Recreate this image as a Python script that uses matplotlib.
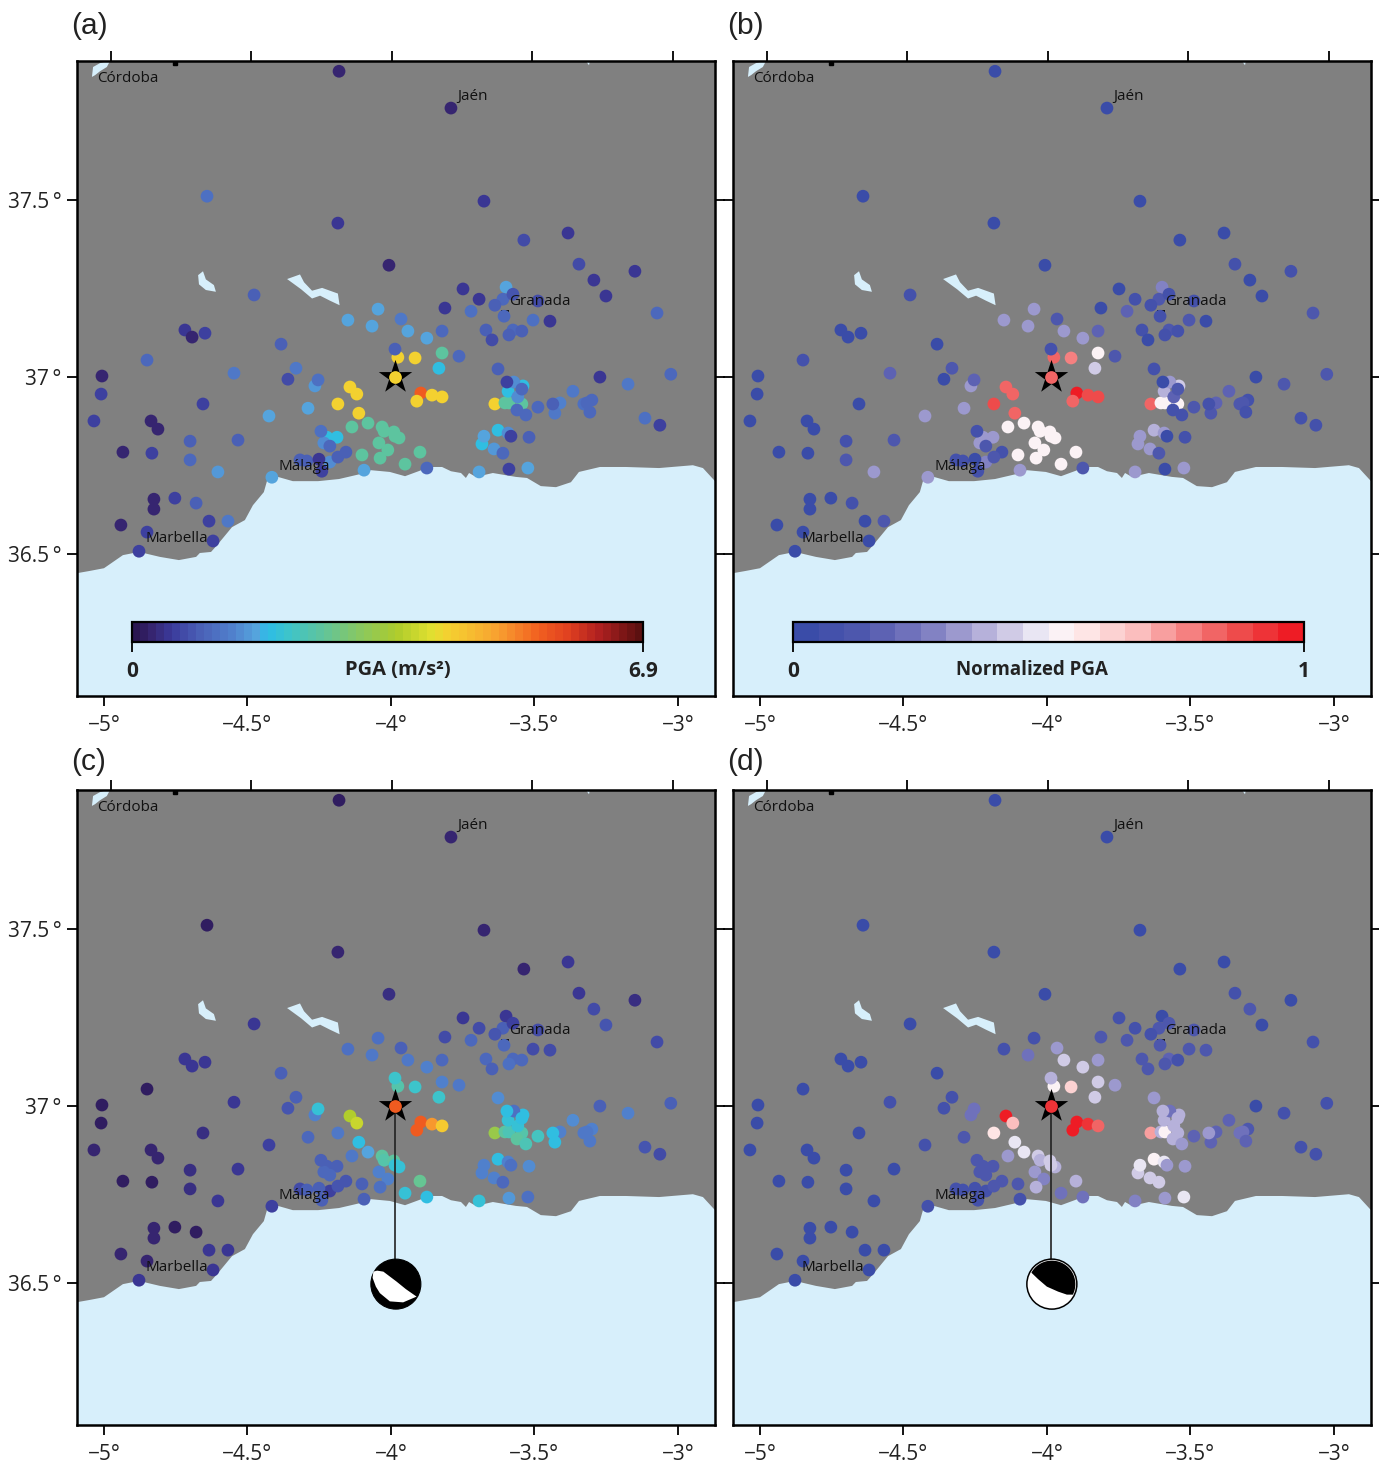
import numpy as np
import matplotlib
matplotlib.use("Agg")
import matplotlib.pyplot as plt
from matplotlib.colors import LinearSegmentedColormap, Normalize
from matplotlib.cm import ScalarMappable
from matplotlib.patches import Polygon, Ellipse

plt.rcParams['font.family'] = ['Open Sans', 'DejaVu Sans']

W, H = 1379, 1465
LAND = '#808080'
SEA = '#d7effb'

# station longitudes / latitudes (degrees)
station_lon = [
 -4.477,-4.150,-4.045,-4.066,-3.965,-3.941,-3.875,-3.822,-3.812,-3.749,
 -3.693,-3.721,-3.638,-3.610,-3.599,-3.575,-3.606,-3.488,-3.505,-3.446,
 -3.293,-3.251,-3.669,-3.648,-3.575,-3.589,-3.544,-3.763,-3.822,-3.833,
 -3.916,-3.976,-3.986,-3.986,-3.896,-3.857,-3.822,-3.910,-4.143,-4.119,
 -4.185,-4.112,-4.383,-4.331,-4.359,-4.547,-4.265,-4.254,-4.289,-4.425,
 -4.533,-4.244,-4.188,-4.223,-4.234,-4.213,-4.157,-4.185,-4.213,-4.317,
 -4.293,-4.251,-4.241,-4.415,-4.136,-4.080,-4.031,-4.024,-3.990,-3.972,
 -3.986,-4.042,-4.011,-4.101,-4.038,-3.899,-3.951,-4.094,-3.875,-3.693,
 -3.589,-3.523,-3.676,-3.683,-3.627,-3.641,-3.610,-3.592,-3.582,-3.519,
 -3.627,-3.596,-3.572,-3.540,-3.592,-3.544,-3.558,-3.638,-3.603,-3.589,
 -3.544,-3.561,-3.530,-3.488,-3.436,-3.411,-3.429,-3.366,-3.272,-3.174,
 -3.328,-3.300,-3.317,-3.307,-4.181,-3.791,-4.641,-4.185,-3.676,-3.537,
 -3.383,-4.007,-3.345,-3.150,-3.073,-4.718,-4.693,-4.648,-4.850,-5.007,
 -5.010,-5.035,-4.655,-4.836,-4.812,-4.700,-4.700,-4.603,-4.934,-4.833,
 -4.826,-4.826,-4.753,-4.679,-4.634,-4.568,-4.941,-4.850,-4.620,-4.878,
 -3.115,-3.063,-3.025]
station_lat = [
 37.232,37.161,37.192,37.144,37.164,37.130,37.110,37.130,37.195,37.249,
 37.220,37.186,37.203,37.220,37.254,37.234,37.172,37.215,37.161,37.158,
 37.274,37.229,37.133,37.105,37.133,37.119,37.130,37.059,37.068,37.025,
 37.054,37.056,37.079,37.000,36.955,36.949,36.944,36.932,36.972,36.952,
 36.924,36.898,37.093,37.025,36.994,37.011,36.975,36.992,36.912,36.890,
 36.822,36.847,36.830,36.830,36.814,36.805,36.788,36.774,36.760,36.766,
 36.763,36.768,36.734,36.717,36.859,36.870,36.859,36.847,36.845,36.828,
 36.833,36.814,36.794,36.780,36.771,36.788,36.754,36.737,36.743,36.732,
 36.740,36.743,36.833,36.811,36.850,36.797,36.785,36.842,36.833,36.830,
 37.023,36.986,36.986,36.975,36.960,36.966,36.944,36.924,36.927,36.927,
 36.924,36.907,36.893,36.915,36.924,36.927,36.898,36.960,37.000,36.980,
 36.924,36.935,36.927,36.901,37.864,37.760,37.511,37.435,37.497,37.387,
 37.407,37.316,37.319,37.299,37.181,37.133,37.113,37.124,37.048,37.003,
 36.952,36.876,36.924,36.876,36.853,36.819,36.766,36.732,36.788,36.785,
 36.655,36.627,36.658,36.644,36.593,36.593,36.582,36.562,36.537,36.508,
 36.884,36.864,37.008]

# panel (a): PGA in m/s2
pga_a = [
 .9,1.65,1.65,1.65,1.2,1.65,1.65,1.0,.5,.5,
 .5,1.1,.9,1.0,1.65,.8,1.0,.7,1.1,.5,
 .5,.5,.95,.7,1.0,.9,.9,1.0,2.5,1.9,
 4.3,4.3,.9,4.3,5.5,4.3,4.3,4.3,4.3,4.3,
 4.3,4.3,.9,1.2,.7,1.2,1.6,1.1,1.65,1.65,
 .9,1.1,1.9,1.9,1.5,1.0,.9,.9,1.5,.9,
 .9,.5,.6,1.65,2.5,2.5,2.5,2.5,2.5,2.5,
 2.5,2.5,2.5,2.5,2.5,2.5,2.5,1.65,1.0,1.65,
 .6,1.65,1.65,1.9,1.9,1.6,1.0,1.5,.6,.9,
 .9,.6,1.5,1.9,1.9,1.0,1.5,4.3,2.5,2.5,
 2.5,1.0,1.0,1.0,.95,1.4,1.2,1.2,.5,1.2,
 1.1,1.0,1.0,1.0,.25,.3,1.1,.5,.5,.7,
 .5,.3,.75,.5,1.0,.5,.3,.55,1.0,.25,
 .55,.55,.6,.3,.3,.9,1.0,1.6,.25,.55,
 .25,.25,.55,.9,.55,1.2,.3,.6,.55,.55,
 1.1,.6,1.0]
# panel (b): normalized PGA
norm_b = [
 .05,.3,.3,.3,.1,.3,.3,.15,.04,.03,
 .05,.15,.05,.12,.28,.05,.05,.05,.13,.03,
 .03,.03,.05,.03,.12,.08,.05,.14,.5,.4,
 .78,.8,.07,.8,1.0,.85,.85,.82,.8,.82,
 .85,.82,.04,.1,.04,.15,.3,.15,.3,.3,
 .1,.05,.33,.33,.3,.13,.05,.1,.28,.05,
 .05,.03,.05,.3,.5,.5,.5,.5,.5,.5,
 .5,.5,.5,.5,.5,.5,.5,.3,.1,.3,
 .03,.33,.33,.33,.38,.3,.13,.3,.04,.05,
 .07,.03,.3,.4,.35,.1,.15,.82,.5,.5,
 .5,.08,.07,.1,.07,.15,.12,.15,.03,.13,
 .13,.06,.12,.07,.03,.03,.04,.03,.03,.04,
 .03,.03,.05,.05,.12,.04,.04,.04,.06,.03,
 .03,.03,.04,.03,.03,.07,.1,.3,.03,.03,
 .03,.03,.03,.08,.03,.12,.03,.04,.03,.03,
 .08,.05,.1]
# panel (c): PGA in m/s2
pga_c = [
 .5,1.1,1.1,1.2,.9,1.2,1.4,1.0,.7,.5,
 .7,1.0,.8,.9,.5,.6,1.0,.7,.7,.7,
 .7,.8,1.0,.9,1.0,1.1,1.0,1.2,1.3,2.1,
 2.1,2.4,2.05,5.6,5.5,5.0,4.4,5.6,3.6,3.85,
 1.2,1.85,.9,.9,.8,.45,1.3,2.0,1.0,.6,
 .45,.9,.95,.9,1.0,1.0,.85,.85,.6,.7,
 .9,.9,.9,.6,1.2,1.7,2.5,2.4,2.5,2.0,
 2.0,1.3,1.3,.9,1.1,2.6,2.0,.9,1.85,2.0,
 1.6,1.1,1.4,1.4,1.85,1.3,1.0,1.3,1.1,1.5,
 1.5,1.9,1.1,1.9,2.0,1.9,2.0,3.3,2.5,2.3,
 2.4,2.5,2.3,2.2,1.9,1.4,1.9,1.5,.95,1.3,
 1.2,1.3,1.2,1.2,.2,.3,.2,.3,.3,.25,
 .45,.4,.45,.35,.75,.5,.45,.45,.2,.2,
 .2,.25,.4,.25,.25,.35,.35,.45,.2,.2,
 .25,.25,.2,.2,.45,.45,.25,.25,.45,.45,
 .8,.7,.9]
# panel (d): normalized PGA
norm_d = [
 .03,.05,.05,.2,.3,.4,.42,.33,.12,.08,
 .08,.12,.07,.12,.04,.1,.12,.1,.12,.13,
 .12,.04,.12,.1,.15,.13,.05,.33,.4,.42,
 .62,.52,.38,.9,.95,.9,.8,1.0,1.0,.68,
 .55,.47,.04,.05,.05,.05,.2,.22,.13,.05,
 .04,.1,.12,.1,.1,.12,.1,.1,.08,.05,
 .08,.05,.07,.05,.3,.47,.4,.38,.42,.35,
 .4,.3,.25,.1,.35,.35,.2,.05,.2,.28,
 .33,.45,.45,.42,.52,.4,.43,.48,.33,.33,
 .3,.36,.2,.37,.36,.38,.36,.72,.38,.5,
 .38,.36,.3,.18,.3,.17,.15,.17,.04,.07,
 .2,.1,.2,.17,.03,.03,.04,.04,.03,.04,
 .04,.04,.05,.04,.05,.04,.04,.04,.04,.03,
 .04,.04,.04,.04,.04,.04,.04,.04,.04,.04,
 .04,.04,.04,.04,.04,.04,.04,.04,.04,.04,
 .07,.05,.07]

EPICENTRE = 33     # index of the station under the star
epi_lon, epi_lat = -3.986, 37.0
ball_lon, ball_lat = -3.983, 36.497

coast_lon = [-5.094,-5.052,-5.000,-4.934,-4.878,-4.805,-4.739,-4.679,-4.666,-4.627,
             -4.606,-4.554,-4.509,-4.481,-4.443,-4.429,-4.394,-4.342,-4.254,-4.181,
             -4.091,-4.070,-4.004,-3.951,-3.864,-3.822,-3.791,-3.756,-3.739,-3.728,
             -3.704,-3.645,-3.565,-3.526,-3.478,-3.425,-3.373,-3.345,-3.272,-3.181,
             -3.066,-2.948,-2.913,-2.871]
coast_lat = [36.446,36.452,36.460,36.497,36.506,36.492,36.483,36.492,36.503,36.506,
             36.525,36.576,36.596,36.638,36.675,36.715,36.718,36.706,36.706,36.712,
             36.729,36.737,36.732,36.720,36.746,36.746,36.734,36.729,36.715,36.729,
             36.718,36.729,36.718,36.715,36.692,36.689,36.703,36.732,36.746,36.746,
             36.743,36.751,36.743,36.706]
lakes = [
 ([-4.362,-4.317,-4.303,-4.275,-4.240,-4.185,-4.179,-4.213,-4.247,-4.275,-4.313],
  [37.277,37.290,37.268,37.244,37.252,37.236,37.203,37.216,37.230,37.222,37.248]),
 ([-4.672,-4.655,-4.645,-4.617,-4.610,-4.645,-4.669],
  [37.288,37.299,37.276,37.260,37.241,37.246,37.262]),
 ([-5.042,-5.038,-5.014,-4.997,-4.979,-4.990,-5.014,-5.031],
  [37.848,37.876,37.887,37.891,37.893,37.876,37.864,37.853]),
 ([-3.321,-3.307,-3.310], [37.893,37.893,37.881]),
]

city_names = ['Córdoba', 'Jaén', 'Granada', 'Málaga', 'Marbella']
city_lon = [-5.024, -3.770, -3.588, -4.393, -4.857]
city_lat = [37.843, 37.794, 37.213, 36.746, 36.543]

xtick_vals = [-5, -4.5, -4, -3.5, -3]
xtick_labels = ['−5°', '−4.5°', '−4°', '−3.5°', '−3°']
xtick_top = [-4.976, -4.488, -3.997, -3.509, -3.018]
ytick_vals = [36.5, 37, 37.5]
ytick_labels = ['36.5\u2009°', '37\u2009°', '37.5\u2009°']

cb_pga_max = 6.9
panel_letters = ['(a)', '(b)', '(c)', '(d)']

cmap_pga = LinearSegmentedColormap.from_list('pga', [
    (0.00, '#2a1550'), (0.03, '#36246e'), (0.07, '#3b3a9a'), (0.13, '#4b62b8'),
    (0.19, '#5080cc'), (0.24, '#55a5de'), (0.26, '#2cbce8'), (0.30, '#3cc4cc'),
    (0.37, '#60c49c'), (0.45, '#8cc85c'), (0.52, '#aecc2c'), (0.59, '#e2e030'),
    (0.62, '#f4d030'), (0.66, '#f6c030'), (0.72, '#f8a030'), (0.80, '#f26020'),
    (0.86, '#e04020'), (0.92, '#b02020'), (1.00, '#5c1010')], N=64)
cmap_norm = LinearSegmentedColormap.from_list('normpga', [
    (0.00, '#3a4ca8'), (0.12, '#5058ae'), (0.25, '#7c7cc0'), (0.38, '#bcb6dc'),
    (0.50, '#f6f4fa'), (0.55, '#fff0f0'), (0.68, '#fbc0c0'), (0.80, '#f47a7a'),
    (0.90, '#ee4848'), (1.00, '#ee1c25')], N=20)
norm_pga = Normalize(0, cb_pga_max)
norm_unit = Normalize(0, 1)

# beach-ball glyph outlines on the unit circle
white_c_x = [-.9,-.75,-.5,.03,.4,.83,.29,-.24,-.64,-.8,-.93]
white_c_y = [.5,.54,.5,.1,-.2,-.5,-.73,-.69,-.36,-.1,.25]
black_d_x = [-.81,-.55,-.2,.25,.6,.87]
black_d_y = [.45,.2,-.1,-.3,-.42,-.42]
BALL_RX, BALL_RY = 0.0871, 0.0706

LON0, LON1, LAT0, LAT1 = -5.094, -2.871, 36.099, 37.893
DOT = 84
fig = plt.figure(figsize=(W/100, H/100), dpi=100, facecolor='white')


def add_px_axes(x0, y0, x1, y1):
    return fig.add_axes([x0/W, 1-y1/H, (x1-x0)/W, (y1-y0)/H])


def draw_ball(ax, kind):
    if kind == 'c':
        ax.add_patch(Ellipse((ball_lon, ball_lat), 2*BALL_RX, 2*BALL_RY, fc='black', ec='black', lw=0.8, zorder=6))
        px = ball_lon + np.array(white_c_x)*BALL_RX
        py = ball_lat + np.array(white_c_y)*BALL_RY
        ax.add_patch(Polygon(np.c_[px, py], fc='white', ec='none', zorder=7))
    else:
        ax.add_patch(Ellipse((ball_lon, ball_lat), 2*BALL_RX, 2*BALL_RY, fc='white', ec='black', lw=1.1, zorder=6))
        t = np.radians(np.linspace(-26, 150, 50))
        ux = np.r_[black_d_x, .94*np.cos(t)]
        uy = np.r_[black_d_y, .94*np.sin(t)]
        ax.add_patch(Polygon(np.c_[ball_lon+ux*BALL_RX, ball_lat+uy*BALL_RY], fc='black', ec='none', zorder=7))


order = np.argsort(-np.array(pga_a), kind='stable')
lon_arr, lat_arr = np.array(station_lon), np.array(station_lat)

panels = [
    ((77, 61, 715, 696), pga_a, cmap_pga, norm_pga, None, (71, 26)),
    ((733, 61, 1371, 696), norm_b, cmap_norm, norm_unit, None, (727, 26)),
    ((77, 790, 715, 1425), pga_c, cmap_pga, norm_pga, 'c', (71, 762)),
    ((733, 790, 1371, 1425), norm_d, cmap_norm, norm_unit, 'd', (727, 762)),
]
for i, (box, vals, cmap, nrm, ball, lab) in enumerate(panels):
    ax = add_px_axes(*box)
    ax.set_xlim(LON0, LON1)
    ax.set_ylim(LAT0, LAT1)
    ax.set_facecolor(SEA)
    land = np.c_[coast_lon + [LON1, LON0], coast_lat + [LAT1, LAT1]]
    ax.add_patch(Polygon(land, fc=LAND, ec='none', zorder=1))
    for lx, ly in lakes:
        ax.add_patch(Polygon(np.c_[lx, ly], fc=SEA, ec='none', zorder=2))
    ax.plot([-4.753], [37.888], marker='s', ms=3.2, color='black', zorder=3, ls='none')
    ax.plot([-3.604], [37.187], marker='_', ms=6, mew=1.2, color='black', zorder=3, ls='none')

    v = np.array(vals)
    ax.scatter(lon_arr[order], lat_arr[order], c=v[order], cmap=cmap, norm=nrm,
               s=DOT, linewidths=0, zorder=4)
    if ball:
        ax.plot([epi_lon, epi_lon], [epi_lat, ball_lat], color='#222222', lw=1.2, zorder=5)
        draw_ball(ax, ball)
    ax.scatter([epi_lon], [epi_lat], marker='*', s=640, c='black', linewidths=0, zorder=8)
    ax.scatter([lon_arr[EPICENTRE]], [lat_arr[EPICENTRE]], c=[v[EPICENTRE]], cmap=cmap, norm=nrm,
               s=DOT, linewidths=0, zorder=9)
    for nm, cx, cy in zip(city_names, city_lon, city_lat):
        ax.text(cx, cy, nm, fontsize=11, color='#111111', va='center', ha='left', zorder=10)

    for s in ax.spines.values():
        s.set_linewidth(1.8)
        s.set_zorder(20)
    ax.set_xticks(xtick_vals)
    ax.set_xticklabels(xtick_labels, fontsize=15, color='#222222')
    ax.set_yticks(ytick_vals)
    ax.set_yticklabels(ytick_labels if i in (0, 2) else [], fontsize=15, color='#222222')
    ax.tick_params(axis='x', length=7, width=1.3, pad=7)
    ax.tick_params(axis='y', length=7, width=1.3, pad=4, left=True, right=True)
    sec = ax.secondary_xaxis('top')
    sec.set_xticks(xtick_top)
    sec.set_xticklabels([])
    sec.tick_params(length=7, width=1.3)
    sec.spines['top'].set_visible(False)
    fig.text(lab[0]/W, 1-lab[1]/H, panel_letters[i], family='Liberation Sans', fontsize=21.5,
             ha='left', va='center', color='#222222')

colorbars = [
    ((132, 622, 643, 642), cmap_pga, norm_pga, [0, cb_pga_max], ['0', '6.9'], 'PGA (m/s²)', 0.52, 14.5),
    ((793, 622, 1304, 642), cmap_norm, norm_unit, [0, 1], ['0', '1'], 'Normalized PGA', 0.468, 13.5),
]
for box, cmap, nrm, ticks, labels, title, tx, tfs in colorbars:
    cax = add_px_axes(*box)
    cb = fig.colorbar(ScalarMappable(norm=nrm, cmap=cmap), cax=cax, orientation='horizontal')
    cb.set_ticks(ticks)
    cb.set_ticklabels(labels, fontsize=15, fontweight='bold', color='#222222')
    cb.outline.set_linewidth(1.6)
    cax.tick_params(length=7, width=1.3, pad=7)
    cax.minorticks_off()
    cax.text(tx, -1.42, title, transform=cax.transAxes, fontsize=tfs, fontweight='bold',
             ha='center', va='center', color='#222222')

fig.savefig('out.png', dpi=100, facecolor='white')
